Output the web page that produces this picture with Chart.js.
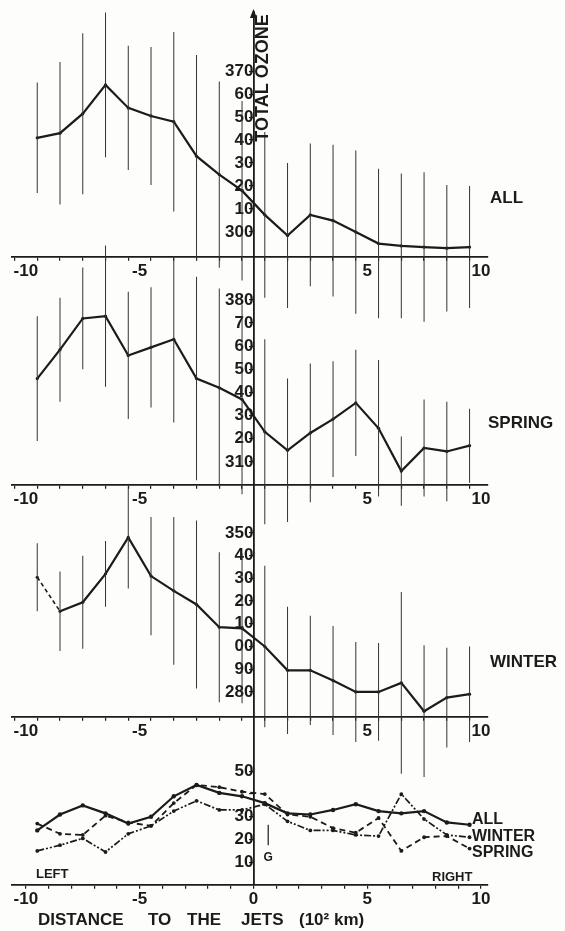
<!DOCTYPE html>
<html>
<head>
<meta charset="utf-8">
<title>Total ozone vs distance to the jets</title>
<script src="https://cdn.jsdelivr.net/npm/chart.js@4.4.1/dist/chart.umd.min.js"></script>
<style>
  html, body { margin: 0; padding: 0; background: #fdfdfb; }
  #wrap { position: relative; width: 565px; height: 931px; }
  #wrap canvas { position: absolute; left: 0; top: 0; }
</style>
</head>
<body>
<div id="wrap">
  <canvas id="allChart" width="565" height="931"></canvas>
  <canvas id="springChart" width="565" height="931"></canvas>
  <canvas id="winterChart" width="565" height="931"></canvas>
  <canvas id="sdChart" width="565" height="931"></canvas>
</div>
<script>
// distance to the jets, 10^2 km (class centres)
const distance = [-9.5, -8.5, -7.5, -6.5, -5.5, -4.5, -3.5, -2.5, -1.5, -0.5,
                   0.5,  1.5,  2.5,  3.5,  4.5,  5.5,  6.5,  7.5,  8.5,  9.5];

// mean total ozone
const allMean    = [341, 343, 351.5, 364, 354, 350.5, 348, 333, 325, 318,
                    307.5, 298.5, 307.5, 305, 300, 295, 294, 293.5, 293, 293.5];
const springMean = [346, 358.5, 372, 373, 356, 359.5, 363, 346, 342, 337,
                    323, 315, 322.5, 328.5, 335.5, 324.5, 306, 316, 314.5, 317];
const winterMean = [330.5, 315.5, 319.5, 332, 348, 331, 324.5, 318.5, 308.5, 308,
                    300, 289.5, 289.5, 285, 280, 280, 284, 271.5, 277.5, 279];

// standard deviations (bottom panel, also the half length of the bars)
const allSd    = [24, 31, 35, 31.5, 27, 30, 39, 44, 40.5, 39,
                  36, 31.5, 31, 33, 35.5, 32.5, 31.5, 32.5, 27.5, 26.5];
const springSd = [27, 22.5, 22, 30.5, 27.5, 26, 36, 44, 43, 41,
                  40, 31, 30, 25, 23, 29.5, 15, 21, 21.5, 16];
const winterSd = [15, 17.5, 20.5, 14.5, 22.5, 26, 32.5, 37, 33, 33,
                  35.5, 28, 24, 24, 22, 21.5, 40, 29, 22, 21];

// axis ticks
const xTicks = [-10, -9, -8, -7, -6, -5, -4, -3, -2, -1, 0, 1, 2, 3, 4, 5, 6, 7, 8, 9, 10];
const xLabelsUpper = [-10, -5, 5, 10];
const xLabelsBottom = [-10, -5, 0, 5, 10];
const allTicks = [300, 310, 320, 330, 340, 350, 360, 370];
const allTickLabels = ['300', '10', '20', '30', '40', '50', '60', '370'];
const springTicks = [310, 320, 330, 340, 350, 360, 370, 380];
const springTickLabels = ['310', '20', '30', '40', '50', '60', '70', '380'];
const winterTicks = [280, 290, 300, 310, 320, 330, 340, 350];
const winterTickLabels = ['280', '90', '00', '10', '20', '30', '40', '350'];
const sdTicks = [10, 20, 30, 40, 50];
const sdTickLabels = ['10', '20', '30', '', '50'];

const INK = '#1b1b1b';
const FONT = '"Liberation Sans", Arial, Helvetica, sans-serif';
const X_MIN = -10.61;
const X_MAX = 10.31;

Chart.defaults.font.family = FONT;
Chart.defaults.font.weight = 'bold';
Chart.defaults.color = INK;

function meanLine(mean, dashFirst) {
    return {
        type: 'line',
        data: distance.map((x, i) => ({ x: x, y: mean[i] })),
        borderColor: INK,
        borderWidth: 2.2,
        pointRadius: 1.6,
        pointBorderWidth: 0,
        pointBackgroundColor: INK,
        tension: 0,
        clip: false,
        segment: dashFirst ? {
            borderDash: ctx => ctx.p0DataIndex === 0 ? [4, 3] : undefined,
            borderWidth: ctx => ctx.p0DataIndex === 0 ? 1.6 : undefined
        } : undefined
    };
}

function sdBars(mean, sd) {
    return {
        type: 'bar',
        data: distance.map((x, i) => ({ x: x, y: [mean[i] - sd[i], mean[i] + sd[i]] })),
        backgroundColor: '#333333',
        borderWidth: 0,
        barThickness: 1,
        inflateAmount: 0,
        grouped: false,
        clip: false
    };
}

function makePanel(id, p) {
    return new Chart(document.getElementById(id), {
        type: 'line',
        data: { datasets: p.datasets },
        options: {
            responsive: false,
            animation: false,
            devicePixelRatio: 1,
            events: [],
            layout: { padding: { left: 12, right: 77, top: p.top, bottom: 931 - p.bottom } },
            plugins: { legend: { display: false }, tooltip: { enabled: false } },
            scales: {
                x: {
                    type: 'linear',
                    min: X_MIN,
                    max: X_MAX,
                    offset: false,
                    position: { y: p.yMin },
                    afterBuildTicks: scale => { scale.ticks = xTicks.map(v => ({ value: v })); },
                    ticks: {
                        autoSkip: false,
                        maxRotation: 0,
                        padding: 1,
                        color: INK,
                        font: { size: 17, weight: 'bold' },
                        callback: value => p.xLabels.includes(value) ? String(value) : ''
                    },
                    grid: { drawOnChartArea: false, tickLength: 3, color: INK, lineWidth: 1.2 },
                    border: { color: INK, width: 1.8 }
                },
                y: {
                    type: 'linear',
                    min: p.yMin,
                    max: p.yMax,
                    position: { x: 0 },
                    afterBuildTicks: scale => { scale.ticks = p.ticks.map(v => ({ value: v })); },
                    ticks: {
                        autoSkip: false,
                        padding: 1,
                        color: INK,
                        font: { size: 17, weight: 'bold' },
                        callback: value => p.tickLabels[p.ticks.indexOf(value)]
                    },
                    grid: { drawOnChartArea: false, tickLength: 4, color: INK, lineWidth: 1.2 },
                    border: { color: INK, width: 1.8 }
                }
            }
        },
        plugins: p.plugins || []
    });
}

// arrow and axis title on the top panel
const ozoneTitle = {
    id: 'ozoneTitle',
    afterDraw(chart) {
        const ctx = chart.ctx;
        const x0 = chart.scales.x.getPixelForValue(0);
        const top = chart.chartArea.top;
        ctx.save();
        ctx.fillStyle = INK;
        ctx.beginPath();
        ctx.moveTo(x0, top - 3);
        ctx.lineTo(x0 - 3.5, top + 6);
        ctx.lineTo(x0 + 3.5, top + 6);
        ctx.closePath();
        ctx.fill();
        ctx.translate(x0 + 10, top + 66);
        ctx.rotate(-Math.PI / 2);
        ctx.font = 'bold 18px ' + FONT;
        ctx.textAlign = 'center';
        ctx.textBaseline = 'middle';
        ctx.fillText('TOTAL OZONE', 0, 0);
        ctx.restore();
    }
};

// season names, legend words and the distance title
const figureText = {
    id: 'figureText',
    afterDraw(chart) {
        const ctx = chart.ctx;
        ctx.save();
        ctx.fillStyle = INK;
        ctx.textAlign = 'left';
        ctx.textBaseline = 'middle';
        ctx.font = 'bold 17px ' + FONT;
        ctx.fillText('ALL', 490, 198);
        ctx.fillText('SPRING', 488, 423);
        ctx.fillText('WINTER', 490, 662);
        ctx.font = 'bold 16px ' + FONT;
        ctx.fillText('ALL', 472, 820);
        ctx.fillText('WINTER', 472, 837);
        ctx.fillText('SPRING', 472, 853);
        ctx.font = 'bold 13px ' + FONT;
        ctx.fillText('LEFT', 36, 874);
        ctx.fillText('RIGHT', 432, 877);
        ctx.font = 'bold 17px ' + FONT;
        ctx.fillText('DISTANCE', 38, 920);
        ctx.fillText('TO', 148, 920);
        ctx.fillText('THE', 187, 920);
        ctx.fillText('JETS', 241, 920);
        ctx.fillText('(10\u00B2 km)', 299, 920);

        // jet symbol
        const xs = chart.scales.x.getPixelForValue(0.65);
        const ys = chart.scales.y;
        ctx.strokeStyle = INK;
        ctx.lineWidth = 1.2;
        ctx.beginPath();
        ctx.moveTo(xs, ys.getPixelForValue(26.5));
        ctx.lineTo(xs, ys.getPixelForValue(17.5));
        ctx.stroke();
        ctx.font = 'bold 12px ' + FONT;
        ctx.textAlign = 'center';
        ctx.fillText('G', xs, ys.getPixelForValue(12));
        ctx.restore();
    }
};

makePanel('allChart', {
    top: 12, bottom: 256.7, yMin: 289.3, yMax: 395.7,
    ticks: allTicks, tickLabels: allTickLabels, xLabels: xLabelsUpper,
    datasets: [sdBars(allMean, allSd), meanLine(allMean, false)],
    plugins: [ozoneTitle]
});

makePanel('springChart', {
    top: 256.7, bottom: 485, yMin: 300, yMax: 398.7,
    ticks: springTicks, tickLabels: springTickLabels, xLabels: xLabelsUpper,
    datasets: [sdBars(springMean, springSd), meanLine(springMean, false)]
});

makePanel('winterChart', {
    top: 485, bottom: 716.7, yMin: 269.1, yMax: 371.1,
    ticks: winterTicks, tickLabels: winterTickLabels, xLabels: xLabelsUpper,
    datasets: [sdBars(winterMean, winterSd), meanLine(winterMean, true)]
});

makePanel('sdChart', {
    top: 716.7, bottom: 885, yMin: 0, yMax: 74,
    ticks: sdTicks, tickLabels: sdTickLabels, xLabels: xLabelsBottom,
    datasets: [
        {
            type: 'line',
            data: distance.map((x, i) => ({ x: x, y: allSd[i] })),
            borderColor: INK, borderWidth: 2.2,
            pointRadius: 2.2, pointBorderWidth: 0, pointBackgroundColor: INK,
            tension: 0, clip: false
        },
        {
            type: 'line',
            data: distance.map((x, i) => ({ x: x, y: winterSd[i] })),
            borderColor: INK, borderWidth: 1.7, borderDash: [7, 2, 2, 2, 2, 2],
            pointRadius: 1.9, pointBorderWidth: 0, pointBackgroundColor: INK,
            tension: 0, clip: false
        },
        {
            type: 'line',
            data: distance.map((x, i) => ({ x: x, y: springSd[i] })),
            borderColor: INK, borderWidth: 1.8, borderDash: [6, 4],
            pointRadius: 1.9, pointBorderWidth: 0, pointBackgroundColor: INK,
            tension: 0, clip: false
        }
    ],
    plugins: [figureText]
});
</script>
</body>
</html>
